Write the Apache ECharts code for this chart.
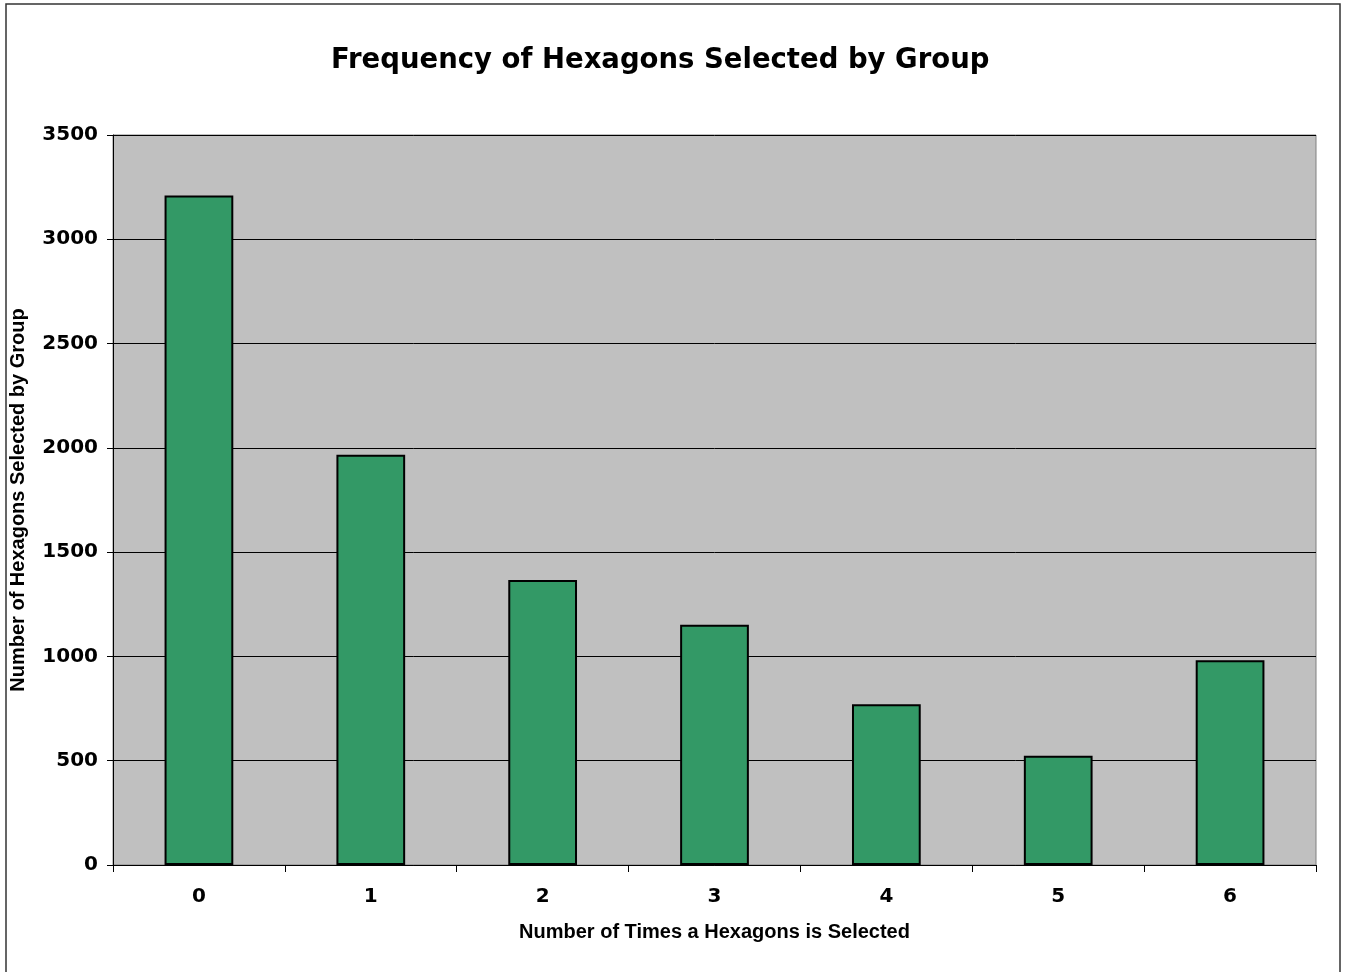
<!DOCTYPE html>
<html>
<head>
<meta charset="utf-8">
<style>
  html, body { margin: 0; padding: 0; background: #ffffff; }
  #chart { width: 1347px; height: 972px; }
</style>
<script src="https://cdn.jsdelivr.net/npm/echarts@6/dist/echarts.min.js"></script>
</head>
<body>
<div id="chart"></div>
<script>
// Number of times a hexagon was picked, and how many hexagons fall in each count
const categories = ['0', '1', '2', '3', '4', '5', '6'];
const hexagonCounts = [3210, 1967, 1367, 1152, 771, 524, 982];
const yTicks = { min: 0, max: 3500, interval: 500 };

const chart = echarts.init(document.getElementById('chart'), null, { renderer: 'canvas' });

chart.setOption({
  animation: false,
  backgroundColor: '#ffffff',
  title: {
    text: 'Frequency of Hexagons Selected by Group',
    left: 326,
    top: 42,
    textStyle: {
      fontFamily: 'DejaVu Sans',
      fontWeight: 'bold',
      fontSize: 27.5,
      color: '#000000'
    }
  },
  graphic: [{
    type: 'rect',
    shape: { x: 6, y: 4, width: 1334, height: 975 },
    style: { fill: 'none', stroke: '#333333', lineWidth: 1.5 },
    silent: true,
    z: -1
  }],
  grid: {
    left: 113,
    top: 135,
    right: 31,
    bottom: 107,
    containLabel: false,
    outerBoundsMode: 'none',
    show: true,
    backgroundColor: '#c0c0c0',
    borderColor: '#808080',
    borderWidth: 1
  },
  xAxis: {
    type: 'category',
    data: categories,
    name: 'Number of Times a Hexagons is Selected',
    nameLocation: 'middle',
    nameGap: 57,
    nameTextStyle: {
      fontFamily: 'Liberation Sans',
      fontWeight: 'bold',
      fontSize: 20,
      color: '#000000'
    },
    axisLine: { lineStyle: { color: '#000000', width: 1 } },
    axisTick: { show: true, alignWithLabel: false, length: 7, lineStyle: { color: '#000000' } },
    axisLabel: {
      margin: 22,
      fontFamily: 'DejaVu Sans',
      fontWeight: 'bold',
      fontSize: 20,
      color: '#000000'
    },
    splitLine: { show: false }
  },
  yAxis: {
    type: 'value',
    min: yTicks.min,
    max: yTicks.max,
    interval: yTicks.interval,
    name: 'Number of Hexagons Selected by Group',
    nameLocation: 'middle',
    nameGap: 85,
    nameTextStyle: {
      fontFamily: 'Liberation Sans',
      fontWeight: 'bold',
      fontSize: 20,
      color: '#000000'
    },
    axisLine: { show: true, lineStyle: { color: '#000000', width: 1 } },
    axisTick: { show: true, length: 6, lineStyle: { color: '#000000' } },
    axisLabel: {
      margin: 15,
      formatter: function (v) { return String(v); },
      fontFamily: 'DejaVu Sans',
      fontWeight: 'bold',
      fontSize: 20,
      color: '#000000'
    },
    splitLine: { show: true, lineStyle: { color: '#000000', width: 1 } }
  },
  series: [{
    type: 'bar',
    data: hexagonCounts,
    barWidth: '40%',
    itemStyle: {
      color: '#339966',
      borderColor: '#000000',
      borderWidth: 2
    }
  }]
});
</script>
</body>
</html>
